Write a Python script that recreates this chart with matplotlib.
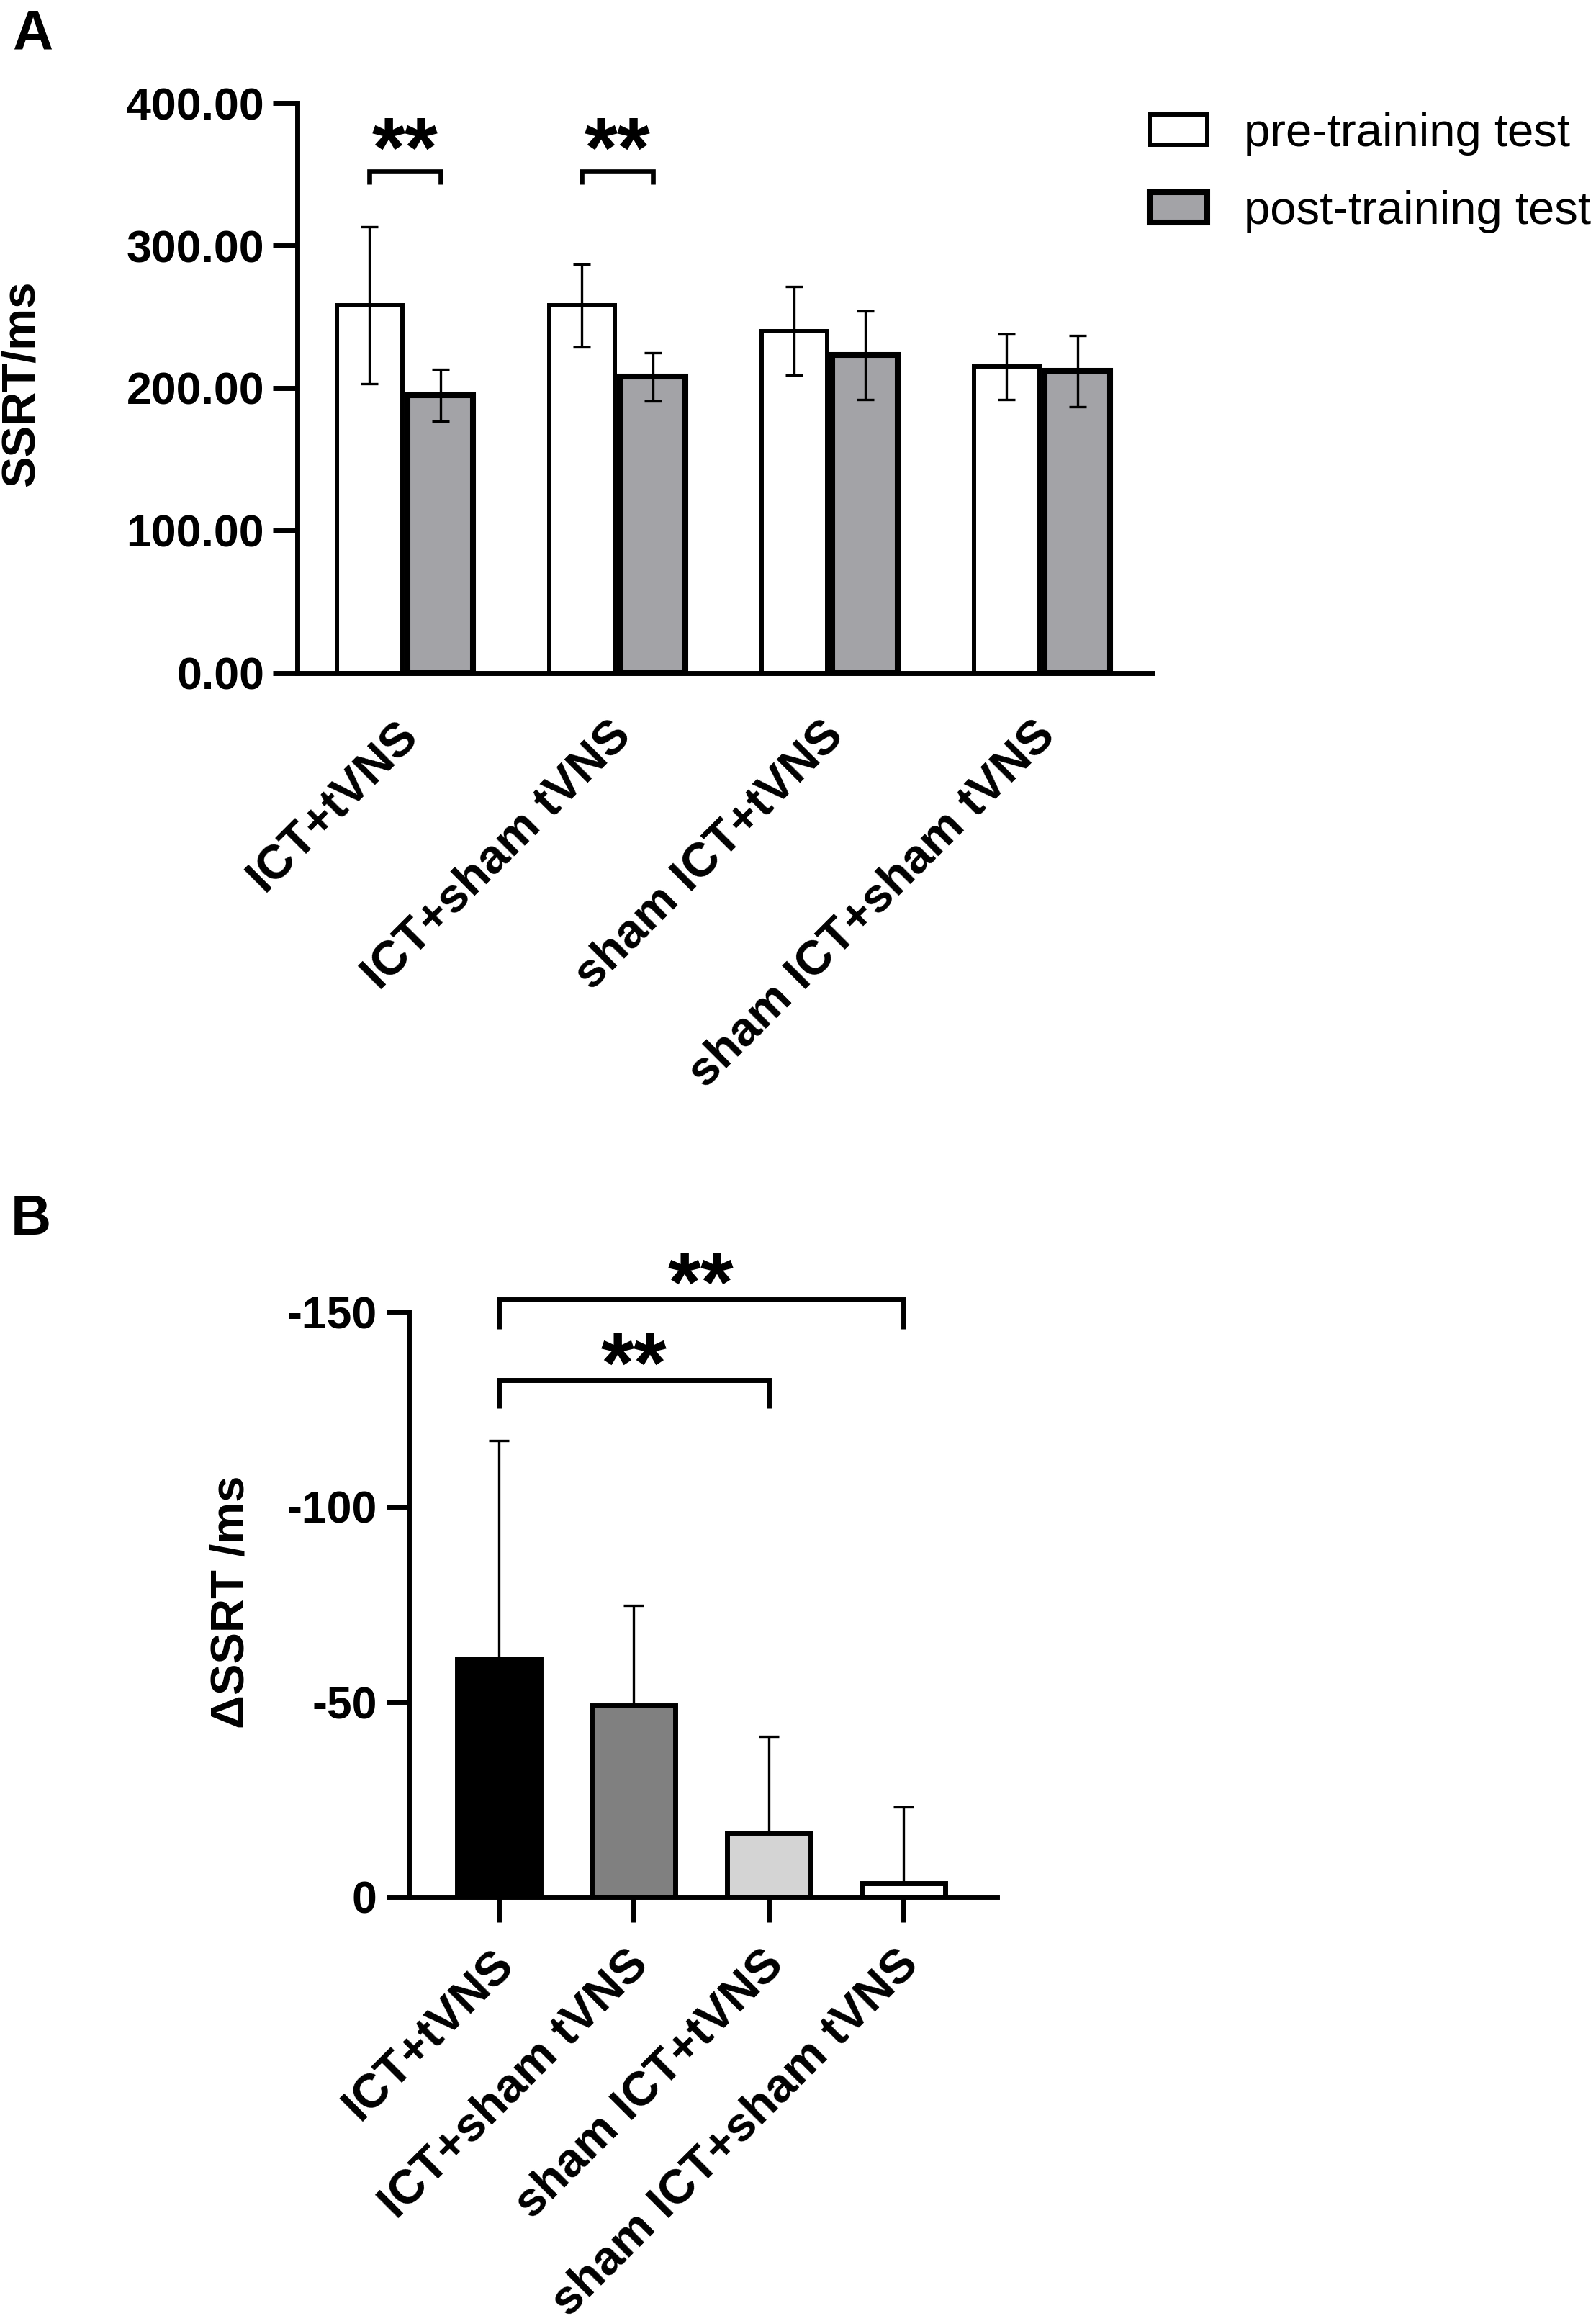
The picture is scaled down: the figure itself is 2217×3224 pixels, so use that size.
import numpy as np
import matplotlib
matplotlib.use("Agg")
import matplotlib.pyplot as plt
from matplotlib.transforms import ScaledTranslation

plt.rcParams['font.family'] = ['Liberation Sans', 'DejaVu Sans']

# ---------------- data ----------------
groups = ["ICT+tVNS", "ICT+sham tVNS", "sham ICT+tVNS", "sham ICT+sham tVNS"]
pre_mean = [258, 258, 240, 215]
pre_sd = [55, 29, 31, 23]
post_mean = [195, 208, 223, 212]
post_sd = [18, 17, 31, 25]
series_labels = ["pre-training test", "post-training test"]
yticks_A = [0, 100, 200, 300, 400]

delta_mean = [-61, -49, -16.4, -3.5]
delta_sd = [56, 25.8, 24.7, 19.6]
delta_colors = ["#000000", "#808080", "#d4d4d4", "#ffffff"]
yticks_B = [0, -50, -100, -150]

sig_A = [(0, "**"), (1, "**")]          # pre vs post within group
sig_B = [(0, 2, "**"), (0, 3, "**")]     # between groups

# ---------------- figure ----------------
W, H = 2217, 3224
fig = plt.figure(figsize=(W / 100, H / 100), dpi=100)


def rect(l, t, r, b):
    return [l / W, 1 - b / H, (r - l) / W, (b - t) / H]


axA = fig.add_axes(rect(413, 143, 1601, 935))
axB = fig.add_axes(rect(568, 1822, 1385, 2635))

TICKFS = 45
XLABFS = 48
LW_AX = 5

for ax in (axA, axB):
    ax.spines['top'].set_visible(False)
    ax.spines['right'].set_visible(False)
    ax.spines['left'].set_linewidth(LW_AX)
    ax.spines['bottom'].set_linewidth(LW_AX)
    ax.spines['left'].set_capstyle('projecting')
    ax.spines['bottom'].set_capstyle('projecting')

# ---------------- panel A ----------------
x = np.arange(len(groups))
off, bw = 0.167, 0.308
bars_pre = axA.bar(x - off, pre_mean, width=bw, color='white', edgecolor='black',
                   linewidth=4.3, zorder=2, label=series_labels[0])
bars_post = axA.bar(x + off, post_mean, width=bw, color='#a3a3a7', edgecolor='black',
                    linewidth=5.8, zorder=2, label=series_labels[1])
axA.errorbar(x - off, pre_mean, yerr=pre_sd, fmt='none', ecolor='black',
             elinewidth=2.4, capsize=8.4, capthick=2.4, zorder=3)
axA.errorbar(x + off, post_mean, yerr=post_sd, fmt='none', ecolor='black',
             elinewidth=2.4, capsize=8.4, capthick=2.4, zorder=3)

axA.set_xlim(-0.507, 3.52)
axA.set_ylim(0, 400)
axA.set_yticks(yticks_A)
axA.set_yticklabels([f"{v:.2f}" for v in yticks_A])
axA.set_xticks(x)
axA.set_xticklabels(groups, rotation=45, ha='right', rotation_mode='anchor')
axA.tick_params(axis='y', length=24.5, width=LW_AX, pad=8.6, labelsize=TICKFS)
axA.tick_params(axis='x', length=0, pad=40, labelsize=XLABFS)
for lab in axA.get_xticklabels() + axA.get_yticklabels():
    lab.set_fontweight('bold')
for lab in axA.get_xticklabels():
    lab.set_transform(lab.get_transform() + ScaledTranslation(-0.13, 0, fig.dpi_scale_trans))

for gi, txt in sig_A:
    x0, x1 = gi - off, gi + off
    axA.plot([x0, x0, x1, x1], [343, 352, 352, 343], color='black', lw=4.8,
             clip_on=False, solid_joinstyle='miter', solid_capstyle='butt')
    axA.text(gi, 348, txt, ha='center', va='baseline', fontsize=85,
             fontweight='bold', clip_on=False)

leg = fig.legend(handles=[bars_pre, bars_post], labels=series_labels,
                 loc='upper left', bbox_to_anchor=(1597 / W, 1 - 156 / H),
                 frameon=False, fontsize=47, handlelength=1.22, handleheight=0.62,
                 handletextpad=0.78, labelspacing=0.74, borderpad=0, borderaxespad=0)

# ---------------- panel B ----------------
axB.bar(x, delta_mean, width=0.62, color=delta_colors, edgecolor='black',
        linewidth=5, zorder=2)
axB.errorbar(x, delta_mean, yerr=[delta_sd, [0] * len(delta_sd)], fmt='none',
             ecolor='black', elinewidth=2.4, capsize=10, capthick=2.4, zorder=3)
axB.set_xlim(-0.667, 3.694)
axB.set_ylim(0, -150)
axB.set_yticks(yticks_B)
axB.set_yticklabels([f"{v:d}" for v in yticks_B])
axB.set_xticks(x)
axB.set_xticklabels(groups, rotation=45, ha='right', rotation_mode='anchor')
axB.tick_params(axis='y', length=22, width=LW_AX, pad=10, labelsize=TICKFS)
axB.tick_params(axis='x', length=25, width=LW_AX, pad=20, labelsize=XLABFS)
for lab in axB.get_xticklabels() + axB.get_yticklabels():
    lab.set_fontweight('bold')
for lab in axB.get_xticklabels():
    lab.set_transform(lab.get_transform() + ScaledTranslation(-0.11, 0, fig.dpi_scale_trans))

bracket_levels = [(-132.5, -125.3, -129.4), (-153.1, -145.5, -150.0)]
for (g0, g1, txt), (yb, yt, ys) in zip(sig_B, bracket_levels):
    axB.plot([g0, g0, g1, g1], [yt, yb, yb, yt], color='black', lw=5,
             clip_on=False, solid_joinstyle='miter', solid_capstyle='butt')
    axB.text((g0 + g1) / 2, ys, txt, ha='center', va='baseline', fontsize=85,
             fontweight='bold', clip_on=False)

# ---------------- labels ----------------
fig.text(30 / W, 1 - 533 / H, "SSRT/ms", rotation=90, ha='center', va='center',
         fontsize=47, fontweight='bold')
fig.text(321 / W, 1 - 2225 / H, "ΔSSRT /ms", rotation=90, ha='center', va='center',
         fontsize=47, fontweight='bold')
fig.text(17 / W, 1 - 12 / H, "A", ha='left', va='top', fontsize=56, fontweight='bold')
fig.text(15 / W, 1 - 1658 / H, "B", ha='left', va='top', fontsize=56, fontweight='bold')

fig.savefig("out.png", dpi=100, facecolor='white')
